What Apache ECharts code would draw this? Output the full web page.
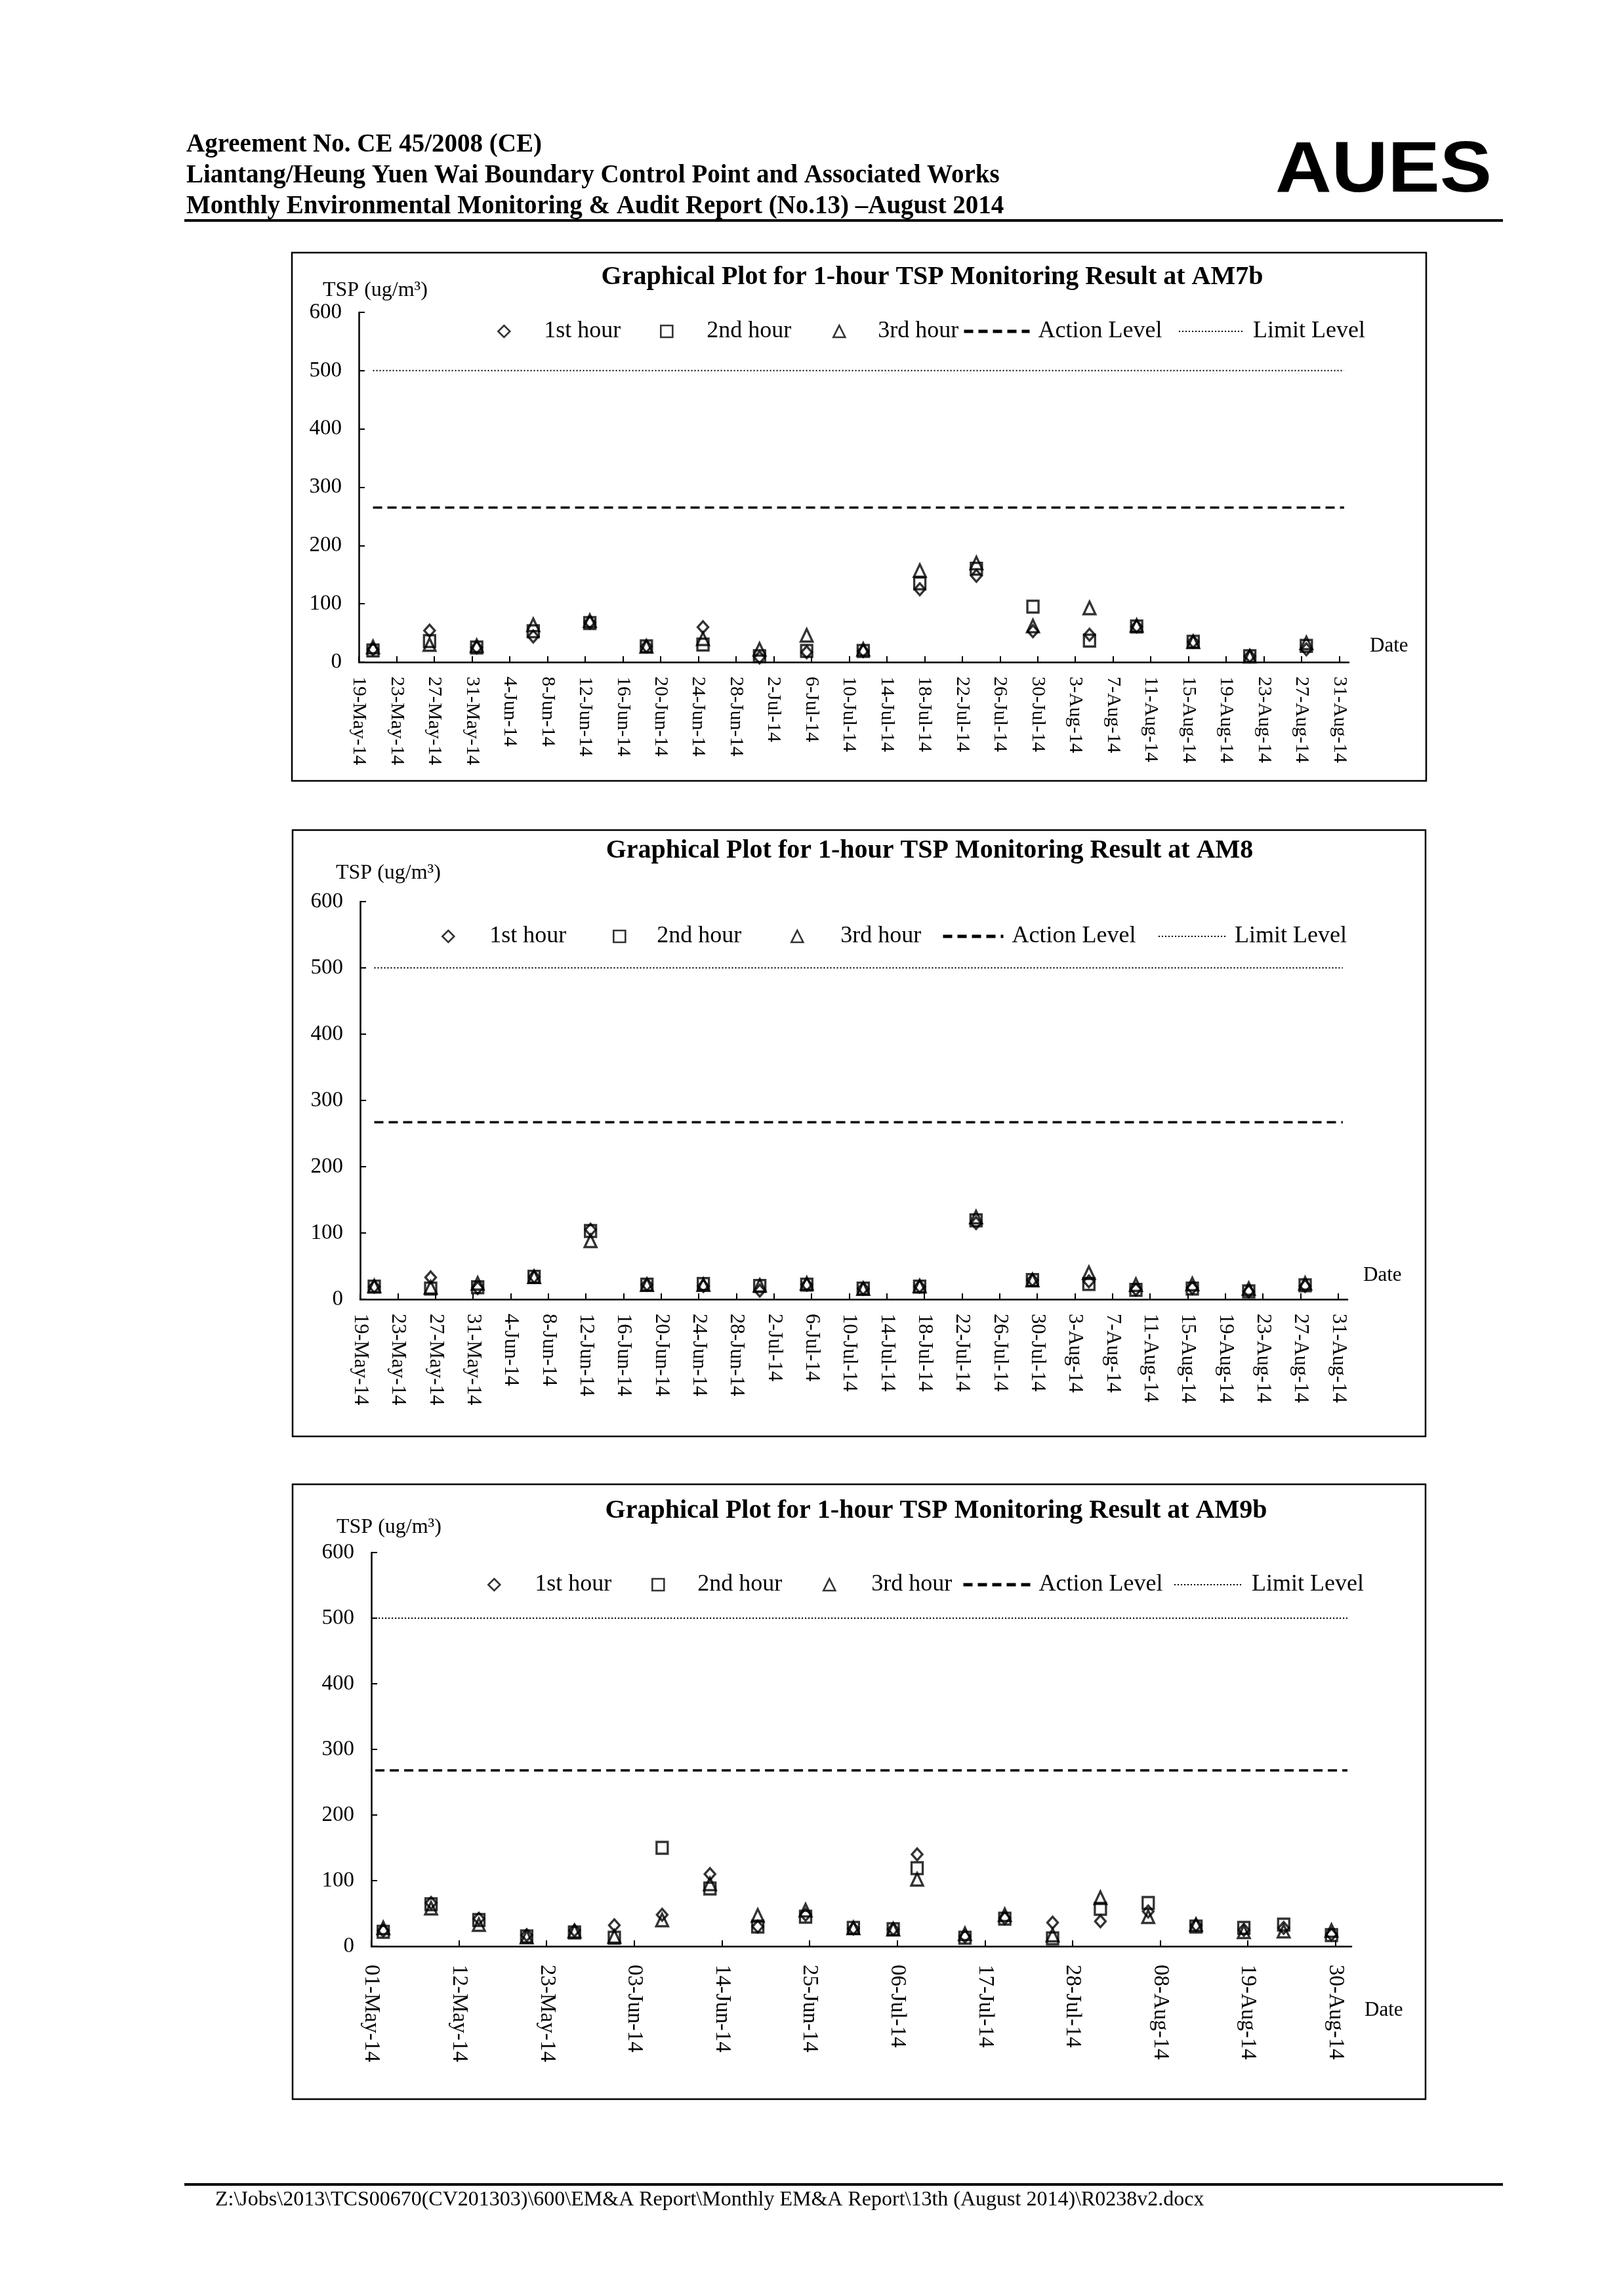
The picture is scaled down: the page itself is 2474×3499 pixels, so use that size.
<!DOCTYPE html>
<html><head><meta charset="utf-8">
<script src="https://cdn.jsdelivr.net/npm/echarts@6/dist/echarts.min.js"></script>
<style>html,body{margin:0;padding:0;background:#fff}#c{width:2474px;height:3499px}</style>
</head><body><div id="c"></div>
<script>
// ================= DATA =================
const seriesNames = ['1st hour', '2nd hour', '3rd hour', 'Action Level', 'Limit Level'];
const chartTitles = [
  'Graphical Plot for 1-hour TSP Monitoring Result at AM7b',
  'Graphical Plot for 1-hour TSP Monitoring Result at AM8',
  'Graphical Plot for 1-hour TSP Monitoring Result at AM9b'
];
const actionLevels = [265, 267, 268];
const limitLevels = [500, 500, 500];
const yTickMax = 600, yTickStep = 100;

// AM7b
const am7bTicks = ['19-May-14','23-May-14','27-May-14','31-May-14','4-Jun-14','8-Jun-14','12-Jun-14','16-Jun-14','20-Jun-14','24-Jun-14','28-Jun-14','2-Jul-14','6-Jul-14','10-Jul-14','14-Jul-14','18-Jul-14','22-Jul-14','26-Jul-14','30-Jul-14','3-Aug-14','7-Aug-14','11-Aug-14','15-Aug-14','19-Aug-14','23-Aug-14','27-Aug-14','31-Aug-14'];
const am7bDates = ['2014-05-20','2014-05-26','2014-05-31','2014-06-06','2014-06-12','2014-06-18','2014-06-24','2014-06-30','2014-07-05','2014-07-11','2014-07-17','2014-07-23','2014-07-29','2014-08-04','2014-08-09','2014-08-15','2014-08-21','2014-08-27'];
const am7b1st = [22, 54, 25, 44, 68, 27, 60,  8, 17, 19, 125, 148, 53, 47, 61, 35, 10, 22];
const am7b2nd = [20, 36, 25, 53, 67, 27, 30, 10, 19, 19, 135, 160, 95, 37, 61, 35, 10, 28];
const am7b3rd = [26, 30, 28, 64, 71, 27, 40, 22, 46, 22, 157, 170, 62, 93, 63, 35, 10, 33];
const am7bLevelDates = ['2014-05-20', '2014-08-31'];
const am7bAxisEnd = '2014-09-01';

// AM8
const am8Ticks = am7bTicks.slice();
const am8Dates = ['2014-05-20','2014-05-26','2014-05-31','2014-06-06','2014-06-12','2014-06-18','2014-06-24','2014-06-30','2014-07-05','2014-07-11','2014-07-17','2014-07-23','2014-07-29','2014-08-04','2014-08-09','2014-08-15','2014-08-21','2014-08-27'];
const am81st = [19, 33, 17, 34, 105, 22, 20, 13, 22, 16, 19, 115, 29, 27, 15, 17, 12, 20];
const am82nd = [19, 16, 18, 34, 103, 22, 23, 20, 22, 16, 19, 119, 29, 23, 14, 16, 12, 21];
const am83rd = [20, 18, 24, 34,  88, 22, 22, 21, 24, 16, 20, 124, 29, 40, 22, 23, 16, 24];
const am8LevelDates = ['2014-05-20', '2014-08-31'];
const am8AxisEnd = '2014-09-01';

// AM9b
const am9bTicks = ['01-May-14','12-May-14','23-May-14','03-Jun-14','14-Jun-14','25-Jun-14','06-Jul-14','17-Jul-14','28-Jul-14','08-Aug-14','19-Aug-14','30-Aug-14'];
const am9bDates = ['2014-05-02','2014-05-08','2014-05-14','2014-05-20','2014-05-26','2014-05-31','2014-06-06','2014-06-12','2014-06-18','2014-06-24','2014-06-30','2014-07-05','2014-07-08','2014-07-14','2014-07-19','2014-07-25','2014-07-31','2014-08-06','2014-08-12','2014-08-18','2014-08-23','2014-08-29'];
const am9b1st = [24, 66, 42, 17, 24, 32,  48, 110, 30, 48, 27, 26, 140, 15, 43, 36, 38, 53, 32, 25, 28, 18];
const am9b2nd = [22, 64, 40, 15, 21, 13, 150,  88, 30, 45, 28, 26, 119, 13, 42, 12, 57, 66, 30, 28, 33, 17];
const am9b3rd = [28, 58, 33, 14, 23, 15,  40,  95, 47, 55, 28, 26, 102, 19, 48, 17, 74, 45, 33, 22, 23, 24];
const am9bLevelDates = ['2014-05-01', '2014-08-31'];
const am9bAxisEnd = '2014-09-01';

// ================= HELPERS =================
const DAY = 86400000;
const MON = {Jan:0,Feb:1,Mar:2,Apr:3,May:4,Jun:5,Jul:6,Aug:7,Sep:8,Oct:9,Nov:10,Dec:11};
function parseLabel(s){ const p = s.split('-'); return Date.UTC(2000 + (+p[2]), MON[p[1]], +p[0]); }
function parseISO(s){ const p = s.split('-'); return Date.UTC(+p[0], +p[1] - 1, +p[2]); }

const SERIF = 'Liberation Serif';

const chartsData = [
  {ticks: am7bTicks, dates: am7bDates, h: [am7b1st, am7b2nd, am7b3rd], levelDates: am7bLevelDates, axisEnd: am7bAxisEnd},
  {ticks: am8Ticks, dates: am8Dates, h: [am81st, am82nd, am83rd], levelDates: am8LevelDates, axisEnd: am8AxisEnd},
  {ticks: am9bTicks, dates: am9bDates, h: [am9b1st, am9b2nd, am9b3rd], levelDates: am9bLevelDates, axisEnd: am9bAxisEnd}
];

// layout (pixels); legend entries: [left, itemWidth, textPadLeft]
const layouts = [
  {grid:{left:547, top:476, width:1509, height:533}, box:[445,385,1729,805], titleX:1421, titleY:423,
   tspX:492, tspY:443, dateX:2088, dateY:985, legendY:505,
   legend:[[758,18,47],[1006,18,47],[1269,18,45],[1467,100,8],[1796,100,8]], xLabelSize:30, xLabelMargin:22, xInterval:4},
  {grid:{left:549, top:1374, width:1505, height:606}, box:[446,1265,1727,924], titleX:1417, titleY:1297,
   tspX:512, tspY:1331, dateX:2078, dateY:1944, legendY:1427,
   legend:[[673,18,49],[934,18,43],[1205,18,52],[1435,92,8],[1765,105,6]], xLabelSize:31, xLabelMargin:22, xInterval:4},
  {grid:{left:566, top:2366, width:1494, height:600}, box:[446,2262,1727,937], titleX:1427, titleY:2303,
   tspX:513, tspY:2328, dateX:2080, dateY:3064, legendY:2415,
   legend:[[743,18,48],[993,18,46],[1254,18,50],[1466,102,8],[1789,105,8]], xLabelSize:33, xLabelMargin:28, xInterval:11}
];

const symbols = ['diamond', 'rect', 'triangle'];
const symbolSizes = [[16,18],[17,18],[18,19]];

const grids = [], xAxes = [], yAxes = [], series = [], legends = [], graphics = [];

chartsData.forEach((cd, ci) => {
  const L = layouts[ci];
  const start = parseLabel(cd.ticks[0]);
  const tickVals = cd.ticks.map(t => Math.round((parseLabel(t) - start) / DAY));
  const labelMap = {};
  tickVals.forEach((v, i) => { labelMap[v] = cd.ticks[i]; });
  const xMax = Math.round((parseISO(cd.axisEnd) - start) / DAY);

  grids.push(Object.assign({containLabel:false}, L.grid));
  xAxes.push({
    gridIndex: ci, type: 'value', min: 0, max: xMax, interval: L.xInterval,
    axisLine: {onZero:false, lineStyle:{color:'#000', width:2.5}},
    axisTick: {inside:true, length:9, lineStyle:{color:'#000', width:2}, customValues: tickVals},
    axisLabel: {customValues: tickVals, rotate: -90, margin: L.xLabelMargin, color:'#000',
      fontFamily: SERIF, fontSize: L.xLabelSize, formatter: v => labelMap[Math.round(v)] || ''},
    splitLine: {show:false}
  });
  yAxes.push({
    gridIndex: ci, type: 'value', min: 0, max: yTickMax, interval: yTickStep,
    axisLine: {show:true, lineStyle:{color:'#000', width:2.5}},
    axisTick: {show:true, inside:true, length:9, lineStyle:{color:'#000', width:2}},
    axisLabel: {color:'#000', fontFamily: SERIF, fontSize: 33, margin: 26},
    splitLine: {show:false}
  });

  for (let k = 0; k < 3; k++) {
    series.push({
      type:'scatter', name: seriesNames[k], xAxisIndex: ci, yAxisIndex: ci,
      symbol: symbols[k], symbolSize: symbolSizes[k],
      itemStyle: {color:'rgba(0,0,0,0)', borderColor:'#000', borderWidth:3.4},
      emphasis: {disabled:true},
      data: cd.dates.map((d, i) => [(parseISO(d) - start) / DAY + 0.5, cd.h[k][i]])
    });
  }
  const lx0 = (parseISO(cd.levelDates[0]) - start) / DAY + 0.5;
  const lx1 = (parseISO(cd.levelDates[1]) - start) / DAY + 0.5;
  series.push({
    type:'line', name: seriesNames[3], xAxisIndex: ci, yAxisIndex: ci, symbol:'none',
    itemStyle:{color:'rgba(0,0,0,0)', borderWidth:0},
    lineStyle:{color:'#000', width:3.5, type:[14,8]}, emphasis:{disabled:true},
    data: [[lx0, actionLevels[ci]], [lx1, actionLevels[ci]]]
  });
  series.push({
    type:'line', name: seriesNames[4], xAxisIndex: ci, yAxisIndex: ci, symbol:'none',
    itemStyle:{color:'rgba(0,0,0,0)', borderWidth:0},
    lineStyle:{color:'#000', width:2, type:[2,3]}, emphasis:{disabled:true},
    data: [[lx0, limitLevels[ci]], [lx1, limitLevels[ci]]]
  });

  // legends (one component per item for exact placement)
  seriesNames.forEach((nm, k) => {
    const isLine = k >= 3;
    legends.push({
      data:[nm], left: L.legend[k][0], top: L.legendY - 18, padding: 0,
      itemWidth: L.legend[k][1], itemHeight: 18, selectedMode: false,
      textStyle: {fontFamily: SERIF, fontSize: 36, color:'#000', lineHeight: 36,
        padding: [0, 0, 0, L.legend[k][2]]},
      itemStyle: isLine ? {color:'rgba(0,0,0,0)', borderWidth:0, borderColor:'rgba(0,0,0,0)'}
                        : {color:'rgba(0,0,0,0)', borderWidth: 2.6, borderColor:'#000'},
      lineStyle: {width: k === 3 ? 5 : 2, color:'#000'}
    });
  });

  // box, title, axis name, date label
  graphics.push({type:'rect', shape:{x:L.box[0], y:L.box[1], width:L.box[2], height:L.box[3]},
    style:{fill:'none', stroke:'#000', lineWidth:2.5}, silent:true});
  graphics.push({type:'text', x:L.titleX, y:L.titleY, silent:true,
    style:{text: chartTitles[ci], fontFamily: SERIF, fontWeight:'bold', fontSize:40, fill:'#000',
      textAlign:'center', textVerticalAlign:'middle'}});
  graphics.push({type:'text', x:L.tspX, y:L.tspY, silent:true,
    style:{text:'TSP (ug/m³)', fontFamily: SERIF, fontSize:32, fill:'#000', textAlign:'left', textVerticalAlign:'middle'}});
  graphics.push({type:'text', x:L.dateX, y:L.dateY, silent:true,
    style:{text:'Date', fontFamily: SERIF, fontSize:31, fill:'#000', textAlign:'left', textVerticalAlign:'middle'}});
});

// page header / footer
const headerLines = [
  'Agreement No. CE 45/2008 (CE)',
  'Liantang/Heung Yuen Wai Boundary Control Point and Associated Works',
  'Monthly Environmental Monitoring & Audit Report (No.13) \u2013August 2014'
];
const headerY = [221, 268, 315];
headerLines.forEach((t, i) => {
  graphics.push({type:'text', x:284, y:headerY[i], silent:true,
    style:{text:t, fontFamily: SERIF, fontWeight:'bold', fontSize:39, fill:'#000', textAlign:'left', textVerticalAlign:'middle'}});
});
graphics.push({type:'text', x:1944, y:262, scaleX:1.08, silent:true,
  style:{text:'AUES', fontFamily:'Liberation Sans', fontWeight:'bold', fontSize:110, fill:'#000', textAlign:'left', textVerticalAlign:'middle'}});
graphics.push({type:'rect', shape:{x:281, y:334, width:2010, height:4}, style:{fill:'#000'}, silent:true});
graphics.push({type:'rect', shape:{x:281, y:3327, width:2010, height:4}, style:{fill:'#000'}, silent:true});
graphics.push({type:'text', x:328, y:3353, silent:true,
  style:{text:'Z:\\Jobs\\2013\\TCS00670(CV201303)\\600\\EM&A Report\\Monthly EM&A Report\\13th (August 2014)\\R0238v2.docx',
    fontFamily: SERIF, fontSize:32, fill:'#000', textAlign:'left', textVerticalAlign:'middle'}});

const chart = echarts.init(document.getElementById('c'), null, {renderer:'canvas', width:2474, height:3499});
chart.setOption({
  animation: false,
  backgroundColor: '#fff',
  grid: grids, xAxis: xAxes, yAxis: yAxes, legend: legends, series: series,
  graphic: graphics
});
</script></body></html>
